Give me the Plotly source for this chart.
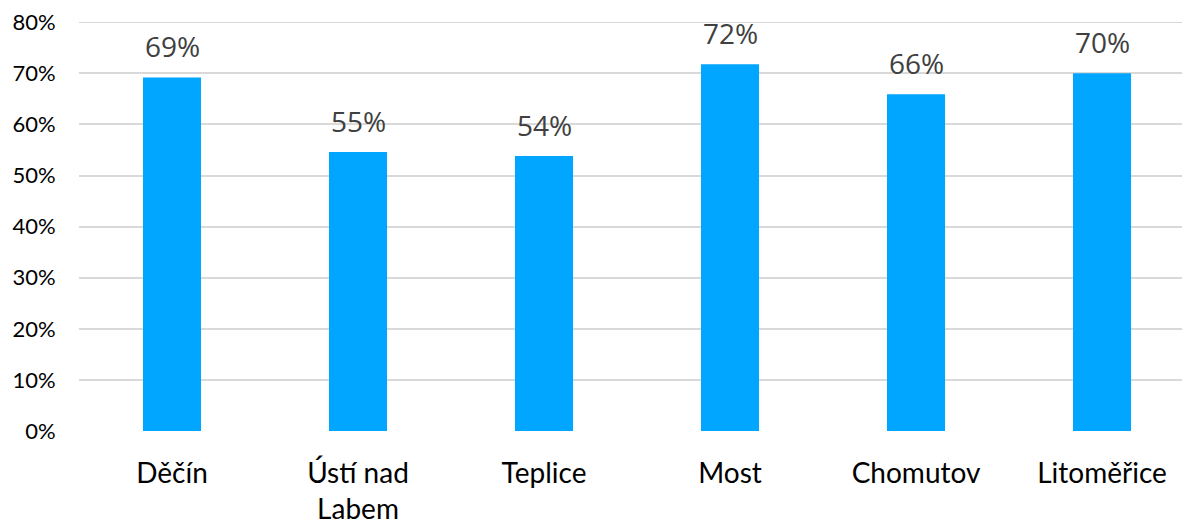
import plotly.graph_objects as go

categories = ["Děčín", "Ústí nad<br>Labem", "Teplice", "Most", "Chomutov", "Litoměřice"]
values = [0.692, 0.546, 0.538, 0.718, 0.659, 0.700]
labels = ["69%", "55%", "54%", "72%", "66%", "70%"]
y_ticks = [0, 0.1, 0.2, 0.3, 0.4, 0.5, 0.6, 0.7, 0.8]

x_idx = list(range(len(categories)))

fig = go.Figure()
fig.add_trace(go.Bar(
    x=x_idx, y=values, width=0.312,
    marker=dict(color="#00A6FF", line=dict(width=0)),
    hoverinfo="skip",
))

for xi, v, t in zip(x_idx, values, labels):
    fig.add_annotation(x=xi, y=v, text=t, showarrow=False, yanchor="bottom",
                       yshift=10, font=dict(family="Open Sans", size=28, color="#404040"))

# top gridline (plotly omits the grid line lying on the plot edge)
fig.add_shape(type="line", xref="paper", yref="y", x0=0, x1=1,
              y0=y_ticks[-1], y1=y_ticks[-1], layer="below",
              line=dict(color="#D9D9D9", width=1.5))

fig.update_layout(
    width=1190, height=524,
    margin=dict(l=71, r=8, t=14, b=101),
    paper_bgcolor="white", plot_bgcolor="white",
    showlegend=False,
    xaxis=dict(
        range=[-0.5, 5.473], automargin=False,
        tickmode="array", tickvals=x_idx, ticktext=categories,
        showgrid=False, zeroline=False, showline=False,
        ticks="outside", ticklen=17, tickcolor="rgba(0,0,0,0)",
        tickfont=dict(family="Lato", size=28, color="#000000"),
    ),
    yaxis=dict(
        range=[0, 0.8005], automargin=False, ticklabeloverflow="allow",
        tickmode="array", tickvals=y_ticks, tickformat=".0%",
        showgrid=True, gridcolor="#D9D9D9", gridwidth=1.5,
        zeroline=False, showline=False,
        ticks="outside", ticklen=18, tickcolor="rgba(0,0,0,0)",
        tickfont=dict(family="Lato", size=22, color="#000000"),
    ),
)

fig.write_html("out.html")
